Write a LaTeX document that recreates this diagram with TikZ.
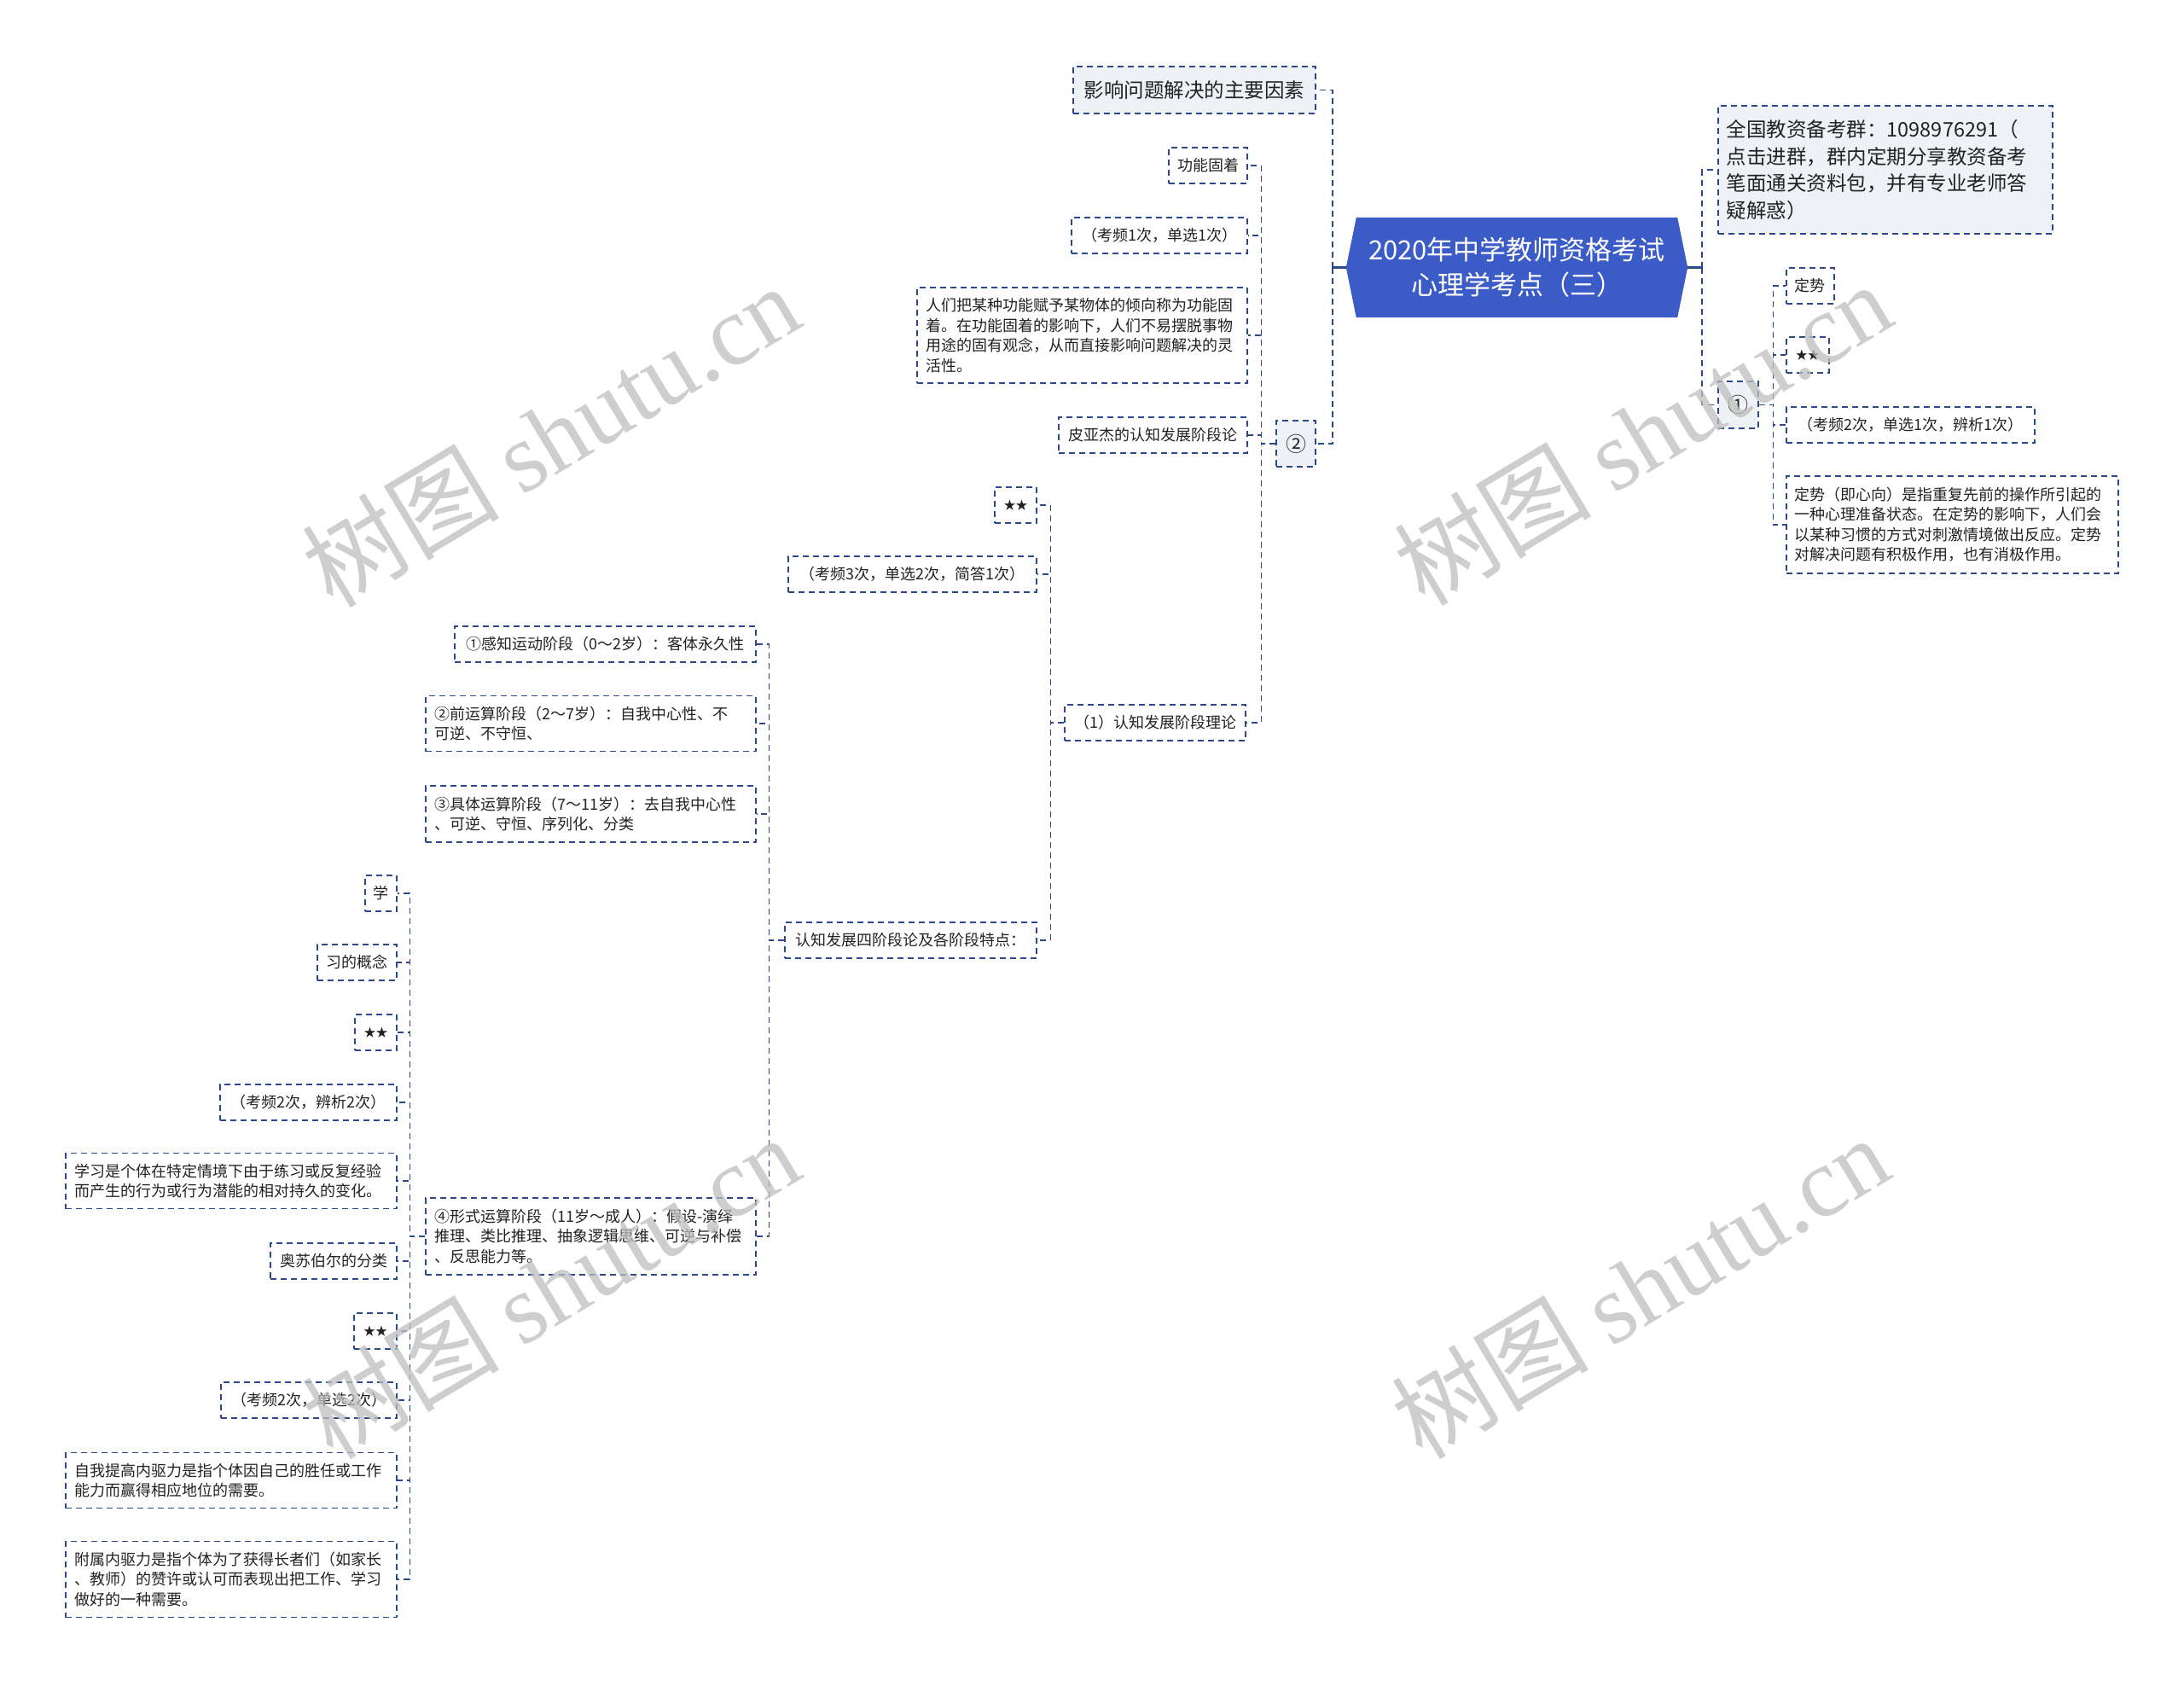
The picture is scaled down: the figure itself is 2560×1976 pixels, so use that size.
\documentclass[tikz,border=0pt]{standalone}
\usepackage{fontspec}
\setmainfont{Noto Sans CJK SC}
\newfontfamily\wmserif{Liberation Serif}
\usetikzlibrary{backgrounds,calc}
\definecolor{lc}{RGB}{44,72,140}
\definecolor{rootblue}{RGB}{59,91,199}
\definecolor{lightfill}{RGB}{238,241,245}
\definecolor{txt}{RGB}{34,34,34}
\definecolor{wmgray}{RGB}{190,190,190}
\tikzset{
  conn/.style={draw=lc, line width=1.6pt, dash pattern=on 7pt off 5pt},
  rootconn/.style={draw=lc, line width=2.6pt},
  bx/.style={draw=lc, line width=1.6pt, dash pattern=on 7pt off 5pt, inner sep=0pt,
    font=\fontsize{18}{23.5}\selectfont, text=txt, anchor=east, minimum height=42pt},
  fbx/.style={bx, fill=lightfill},
  para/.style={bx, align=left, inner xsep=10pt},
  starf/.style={font=\fontsize{14}{16}\selectfont},
  wm/.style={text=wmgray, opacity=0.75, font=\fontsize{116}{116}\selectfont, rotate=31, inner sep=0pt},
}
\begin{document}
\begin{tikzpicture}[x=1pt,y=-1pt]
\begin{scope}[on background layer]
  \fill[white] (0,0) rectangle (2560,1976);
\end{scope}
\useasboundingbox (0,0) rectangle (2560,1976);

% root
\node[font=\fontsize{31}{41}\selectfont, text=white, align=center, minimum width=376pt,
      minimum height=117pt, inner sep=0pt] (root) at (1778,313.5)
      {2020年中学教师资格考试\\心理学考点（三）};
\begin{scope}[on background layer]
  \fill[rootblue] (root.north west) -- (root.north east) -- ($(root.east)+(12,0)$)
    -- (root.south east) -- (root.south west) -- ($(root.west)+(-12,0)$) -- cycle;
\end{scope}
\coordinate (rl) at ($(root.west)+(-12,0)$);
\coordinate (rr) at ($(root.east)+(12,0)$);
\coordinate (sL) at ($(rl)+(-16,0)$);
\coordinate (sR) at ($(rr)+(17,0)$);

% right side
\node[fbx, anchor=west, align=left, text width=372pt, inner xsep=10pt, minimum height=150pt,
      font=\fontsize{23.5}{31.5}\selectfont] (info) at (2013,199)
      {全国教资备考群：1098976291（\\点击进群，群内定期分享教资备考\\笔面通关资料包，并有专业老师答\\疑解惑）};
\node[fbx, anchor=west, minimum width=47pt, minimum height=55pt, font=\fontsize{24}{28}\selectfont] (c1) at (2013,474.5) {①};
\node[bx, anchor=west, minimum width=56pt] (r1) at (2093,335) {定势};
\node[bx, anchor=west, minimum width=50pt, starf] (r2) at (2093,416) {★★};
\node[bx, anchor=west, minimum width=291pt] (r3) at (2093,498) {（考频2次，单选1次，辨析1次）};
\node[para, anchor=west, text width=369pt, minimum height=114pt] (r4) at (2093,615)
      {定势（即心向）是指重复先前的操作所引起的\\一种心理准备状态。在定势的影响下，人们会\\以某种习惯的方式对刺激情境做出反应。定势\\对解决问题有积极作用，也有消极作用。};

% left level 1
\node[fbx, minimum width=284pt, minimum height=55pt, font=\fontsize{23.5}{30}\selectfont] (f1) at (1543,105.5) {影响问题解决的主要因素};
\node[fbx, minimum width=46pt, minimum height=54pt, font=\fontsize{24}{28}\selectfont] (c2) at (1543,520) {②};

% children of 2
\node[bx, minimum width=92pt] (a1) at (1463,194) {功能固着};
\node[bx, minimum width=206pt] (a2) at (1463,276) {（考频1次，单选1次）};
\node[para, text width=367pt, minimum height=112pt] (a3) at (1463,393)
      {人们把某种功能赋予某物体的倾向称为功能固\\着。在功能固着的影响下，人们不易摆脱事物\\用途的固有观念，从而直接影响问题解决的灵\\活性。};
\node[bx, minimum width=221pt] (a4) at (1463,510) {皮亚杰的认知发展阶段论};
\node[bx, minimum width=212pt] (a5) at (1461,847) {（1）认知发展阶段理论};

% children of (1)
\node[bx, minimum width=49pt, starf] (b1) at (1216,592) {★★};
\node[bx, minimum width=291pt] (b2) at (1216,673) {（考频3次，单选2次，简答1次）};
\node[bx, minimum width=295pt] (b3) at (1216,1102) {认知发展四阶段论及各阶段特点：};

% stages
\node[bx, minimum width=353pt] (s1) at (887,755) {①感知运动阶段（0～2岁）：客体永久性};
\node[para, text width=367pt, minimum height=65pt] (s2) at (887,848)
      {②前运算阶段（2～7岁）：自我中心性、不\\可逆、不守恒、};
\node[para, text width=367pt, minimum height=66pt] (s3) at (887,954)
      {③具体运算阶段（7～11岁）：去自我中心性\\、可逆、守恒、序列化、分类};
\node[para, text width=367pt, minimum height=90pt] (s4) at (887,1449)
      {④形式运算阶段（11岁～成人）：假设-演绎\\推理、类比推理、抽象逻辑思维、可逆与补偿\\、反思能力等。};

% children of 4
\node[bx, minimum width=37pt] (d1) at (466,1047) {学};
\node[bx, minimum width=93pt] (d2) at (466,1128) {习的概念};
\node[bx, minimum width=49pt, starf] (d3) at (466,1210) {★★};
\node[bx, minimum width=207pt] (d4) at (466,1292) {（考频2次，辨析2次）};
\node[para, text width=368pt, minimum height=65pt] (d5) at (466,1384)
      {学习是个体在特定情境下由于练习或反复经验\\而产生的行为或行为潜能的相对持久的变化。};
\node[bx, minimum width=148pt] (d6) at (466,1478) {奥苏伯尔的分类};
\node[bx, minimum width=50pt, starf] (d7) at (466,1560) {★★};
\node[bx, minimum width=206pt] (d8) at (466,1641) {（考频2次，单选2次）};
\node[para, text width=368pt, minimum height=65pt] (d9) at (466,1735)
      {自我提高内驱力是指个体因自己的胜任或工作\\能力而赢得相应地位的需要。};
\node[para, text width=368pt, minimum height=89pt] (d10) at (466,1851)
      {附属内驱力是指个体为了获得长者们（如家长\\、教师）的赞许或认可而表现出把工作、学习\\做好的一种需要。};

% connectors: root
\draw[rootconn] (rl) -- (sL);
\draw[rootconn] (rr) -- (sR);
\draw[conn] (sL) |- (f1.east);
\draw[conn] (sL) |- (c2.east);
\draw[conn] (sR) |- (info.west);
\draw[conn] (sR) |- (c1.west);
% 1 children
\foreach \n in {r1,r2,r3,r4} \draw[conn] (c1.east) -- ++(17,0) |- (\n.west);
% 2 children
\foreach \n in {a1,a2,a3,a4,a5} \draw[conn] (c2.west) -- ++(-17,0) |- (\n.east);
% (1) children
\foreach \n in {b1,b2,b3} \draw[conn] (a5.west) -- ++(-16,0) |- (\n.east);
% stages
\foreach \n in {s1,s2,s3,s4} \draw[conn] (b3.west) -- ++(-18,0) |- (\n.east);
% 4 children
\foreach \n in {d1,d2,d3,d4,d5,d6,d7,d8,d9,d10} \draw[conn] (s4.west) -- ++(-18,0) |- (\n.east);

% watermarks
\node[wm] (w1) at (645,510) {树图 {\wmserif shutu.cn}};
\node[wm] (w2) at (1925,508) {树图 {\wmserif shutu.cn}};
\node[wm] (w3) at (645,1508) {树图 {\wmserif shutu.cn}};
\node[wm] (w4) at (1922,1508) {树图 {\wmserif shutu.cn}};
\end{tikzpicture}
\end{document}
